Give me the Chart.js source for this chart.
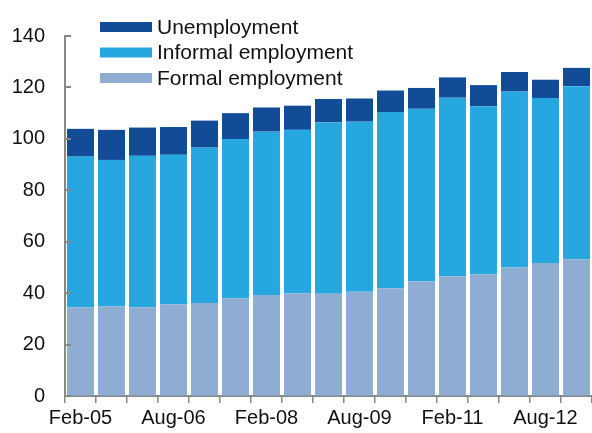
<!DOCTYPE html>
<html>
<head>
<meta charset="utf-8">
<script src="https://cdn.jsdelivr.net/npm/chart.js@4/dist/chart.umd.min.js"></script>
<style>
  html, body { margin: 0; padding: 0; background: #ffffff; }
  canvas { display: block; }
</style>
</head>
<body>
<canvas id="chart" width="592" height="433"></canvas>
<script>
// Half-yearly observations, Feb-05 to Feb-13 (millions)
const periods = [
  'Feb-05', 'Aug-05', 'Feb-06', 'Aug-06', 'Feb-07', 'Aug-07', 'Feb-08', 'Aug-08', 'Feb-09',
  'Aug-09', 'Feb-10', 'Aug-10', 'Feb-11', 'Aug-11', 'Feb-12', 'Aug-12', 'Feb-13'
];
const formalEmployment = [34.5, 34.9, 34.5, 35.7, 36.2, 38.0, 39.3, 40.0, 39.8, 40.5, 41.9, 44.6, 46.6, 47.3, 50.0, 51.7, 53.2];
const informalEmployment = [58.6, 56.9, 58.9, 58.1, 60.4, 61.9, 63.5, 63.5, 66.6, 66.2, 68.5, 67.1, 69.4, 65.3, 68.4, 64.2, 67.3];
const unemployment = [10.8, 11.7, 11.0, 10.8, 10.5, 10.1, 9.4, 9.4, 9.1, 9.0, 8.4, 8.1, 7.9, 8.3, 7.6, 7.1, 7.1];
const yTickValues = [0, 20, 40, 60, 80, 100, 120, 140];

const FONT = '"Liberation Sans", Arial, sans-serif';
const AXIS_GREY = '#888888';

// Short tick marks pointing into the plot from the value axis
const innerYTicks = {
  id: 'innerYTicks',
  afterDatasetsDraw(chart) {
    const y = chart.scales.y;
    const ctx = chart.ctx;
    const x0 = chart.chartArea.left;
    ctx.save();
    ctx.strokeStyle = AXIS_GREY;
    ctx.lineWidth = 2;
    yTickValues.forEach(v => {
      const py = Math.round(y.getPixelForValue(v));
      ctx.beginPath();
      ctx.moveTo(x0, py);
      ctx.lineTo(x0 + 6, py);
      ctx.stroke();
    });
    ctx.restore();
  }
};

// Legend drawn over the upper-left of the plot, top series first
const overlayLegend = {
  id: 'overlayLegend',
  afterDraw(chart) {
    const ctx = chart.ctx;
    const items = chart.data.datasets.slice().reverse();
    ctx.save();
    ctx.font = '21px ' + FONT;
    ctx.textBaseline = 'middle';
    ctx.textAlign = 'left';
    items.forEach((ds, i) => {
      const cy = 27 + i * 25.5;
      ctx.fillStyle = ds.backgroundColor;
      ctx.fillRect(100, cy - 5, 52, 10);
      ctx.fillStyle = '#111111';
      ctx.fillText(ds.label, 157, cy + 1);
    });
    ctx.restore();
  }
};

new Chart(document.getElementById('chart'), {
  type: 'bar',
  data: {
    labels: periods,
    datasets: [
      { label: 'Formal employment', data: formalEmployment, backgroundColor: '#8fadd2' },
      { label: 'Informal employment', data: informalEmployment, backgroundColor: '#27a7e0' },
      { label: 'Unemployment', data: unemployment, backgroundColor: '#124b96' }
    ]
  },
  options: {
    responsive: false,
    animation: false,
    events: [],
    layout: { padding: { top: 36, right: 0, bottom: 0, left: 0 } },
    datasets: {
      bar: { categoryPercentage: 1.0, barPercentage: 0.87, borderWidth: 0 }
    },
    plugins: {
      legend: { display: false },
      tooltip: { enabled: false }
    },
    scales: {
      x: {
        stacked: true,
        offset: true,
        grid: {
          offset: true,
          drawOnChartArea: false,
          drawTicks: true,
          tickLength: 7,
          color: AXIS_GREY,
          lineWidth: 1.5
        },
        border: { display: true, color: AXIS_GREY, width: 2 },
        ticks: {
          autoSkip: false,
          maxRotation: 0,
          padding: 3,
          color: '#111111',
          font: { family: FONT, size: 20 },
          callback(value, index) {
            return index % 3 === 0 ? periods[index] : '';
          }
        },
        afterFit(scale) { scale.height = 37; }
      },
      y: {
        stacked: true,
        min: 0,
        max: 140,
        grid: { drawOnChartArea: false, drawTicks: false },
        border: { display: true, color: AXIS_GREY, width: 2 },
        ticks: {
          stepSize: 20,
          padding: 20,
          color: '#111111',
          font: { family: FONT, size: 20 }
        },
        afterFit(scale) { scale.width = 65; }
      }
    }
  },
  plugins: [innerYTicks, overlayLegend]
});
</script>
</body>
</html>
